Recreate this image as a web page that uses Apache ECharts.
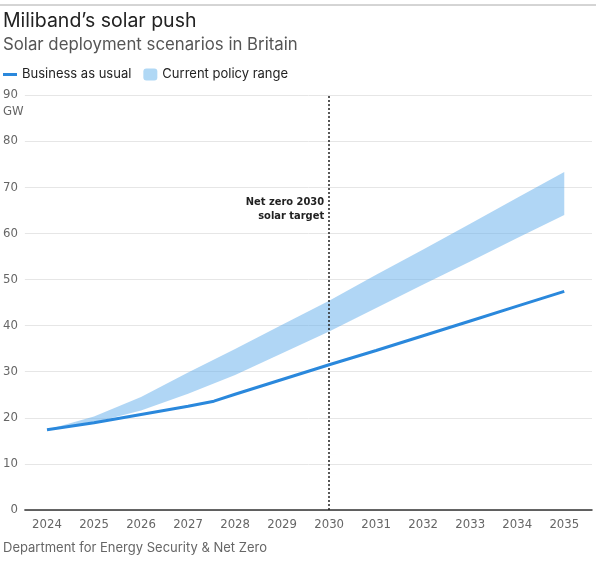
<!DOCTYPE html>
<html>
<head>
<meta charset="utf-8">
<script src="https://cdn.jsdelivr.net/npm/echarts@6/dist/echarts.min.js"></script>
<style>
  html, body { margin: 0; padding: 0; background: #fff; }
  #chart { width: 596px; height: 561px; }
</style>
</head>
<body>
<div id="chart"></div>
<script>
  //  数据
  var years = [2024, 2025, 2026, 2027, 2028, 2029, 2030, 2031, 2032, 2033, 2034, 2035];
  var bauYears = [2024, 2025, 2026, 2027, 2027.55, 2028, 2029, 2030, 2031, 2032, 2033, 2034, 2035];
  var bauValues = [17.4, 18.9, 20.7, 22.5, 23.6, 25.1, 28.3, 31.5, 34.6, 37.8, 41.0, 44.2, 47.4];
  var policyLow = [17.4, 19.0, 21.6, 25.2, 29.3, 34.0, 38.7, 43.8, 48.9, 53.9, 59.0, 64.0];
  var policyHigh = [17.4, 20.3, 24.5, 29.8, 34.9, 40.2, 45.4, 51.0, 56.5, 62.1, 67.7, 73.3];
  var yTicks = [0, 10, 20, 30, 40, 50, 60, 70, 80, 90];
  var targetYear = 2030;

  var lineColor = '#2a88dc';
  var bandColor = 'rgba(98,173,235,0.5)';
  var bandLegendColor = '#b0d8f5';
  var condensed = '"Liberation Sans Narrow", "DejaVu Sans Condensed", sans-serif';
  var sans = 'Inter, "Noto Sans", sans-serif';

  function pairs(xs, ys) {
    return xs.map(function (x, i) {
      return [x, ys[i]];
    });
  }

  //  范围带：一次画成一个多边形，上沿顺序、下沿倒序
  function renderBand(params, api) {
    if (params.dataIndex !== 0) return;
    var points = [];
    for (var i = 0; i < years.length; i++) {
      points.push(api.coord([years[i], policyHigh[i]]));
    }
    for (var j = years.length - 1; j >= 0; j--) {
      points.push(api.coord([years[j], policyLow[j]]));
    }
    return {
      type: 'polygon',
      shape: { points: points },
      style: { fill: bandColor, stroke: null }
    };
  }

  var myChart = echarts.init(document.getElementById('chart'));

  var option = {
    animation: false,
    backgroundColor: '#fff',
    title: [
      {
        text: 'Miliband\u2019s solar push',
        left: 3, top: 11, padding: 0,
        textStyle: { fontFamily: sans, fontSize: 19.5, fontWeight: 'normal', color: '#222' }
      },
      {
        text: 'Solar deployment scenarios in Britain',
        left: 3, top: 36, padding: 0,
        textStyle: { fontFamily: sans, fontSize: 16.8, fontWeight: 'normal', color: '#555' }
      }
    ],
    legend: {
      left: 3, top: 68, padding: 0,
      itemWidth: 14, itemHeight: 12, itemGap: 12,
      textStyle: { fontFamily: sans, fontSize: 13, color: '#222' },
      data: [
        { name: 'Business as usual', icon: 'path://M0,0 L14,0 L14,3 L0,3 Z', itemStyle: { color: lineColor } },
        { name: 'Current policy range', icon: 'roundRect', itemStyle: { color: bandLegendColor } }
      ],
      selectedMode: false
    },
    grid: { left: 24, right: 4, top: 95, bottom: 51 },
    xAxis: {
      type: 'value',
      min: 2023.53,
      max: 2035.59,
      axisLine: { show: true, lineStyle: { color: '#333', width: 1.5 } },
      axisTick: { show: false },
      splitLine: { show: false },
      axisLabel: {
        customValues: years,
        margin: 8,
        fontFamily: condensed,
        fontSize: 13,
        color: '#666',
        formatter: function (v) { return String(v); }
      }
    },
    yAxis: {
      type: 'value',
      min: yTicks[0],
      max: yTicks[yTicks.length - 1],
      interval: 10,
      axisLine: { show: false },
      axisTick: { show: false },
      splitLine: { lineStyle: { color: '#e6e6e6', width: 1 } },
      axisLabel: { margin: 7, fontFamily: condensed, fontSize: 13, color: '#666' }
    },
    series: [
      {
        name: 'Current policy range',
        type: 'custom',
        renderItem: renderBand,
        itemStyle: { color: bandLegendColor },
        data: pairs(years, policyHigh),
        encode: { x: 0, y: 1 },
        silent: true,
        z: 2
      },
      {
        name: 'Business as usual',
        type: 'line',
        symbol: 'none',
        lineStyle: { color: lineColor, width: 3 },
        itemStyle: { color: lineColor },
        data: pairs(bauYears, bauValues),
        z: 5,
        markLine: {
          silent: true,
          symbol: 'none',
          label: { show: false },
          lineStyle: { color: '#222', type: [2, 2], width: 1.5 },
          data: [{ xAxis: targetYear }]
        }
      }
    ]
  };

  myChart.setOption(option);

  //  注释文字的位置按坐标轴换算
  var top90 = myChart.convertToPixel({ gridIndex: 0 }, [targetYear, 90]);
  var note = myChart.convertToPixel({ gridIndex: 0 }, [targetYear, 65.2]);
  myChart.setOption({
    graphic: [
      {
        type: 'line',
        shape: { x1: 0, y1: 5, x2: 596, y2: 5 },
        style: { stroke: '#aaa', lineWidth: 1 }
      },
      {
        type: 'text',
        left: 3, top: top90[1] + 10,
        style: { text: 'GW', font: '13px ' + condensed, fill: '#666' }
      },
      {
        type: 'text',
        x: note[0] - 5, y: note[1],
        style: {
          text: 'Net zero 2030\nsolar target',
          align: 'right',
          verticalAlign: 'middle',
          lineHeight: 14,
          font: 'bold 11px ' + condensed,
          fill: '#222'
        }
      },
      {
        type: 'text',
        left: 3, top: 542,
        style: { text: 'Department for Energy Security & Net Zero', font: '13px ' + sans, fill: '#666' }
      }
    ]
  });
</script>
</body>
</html>
